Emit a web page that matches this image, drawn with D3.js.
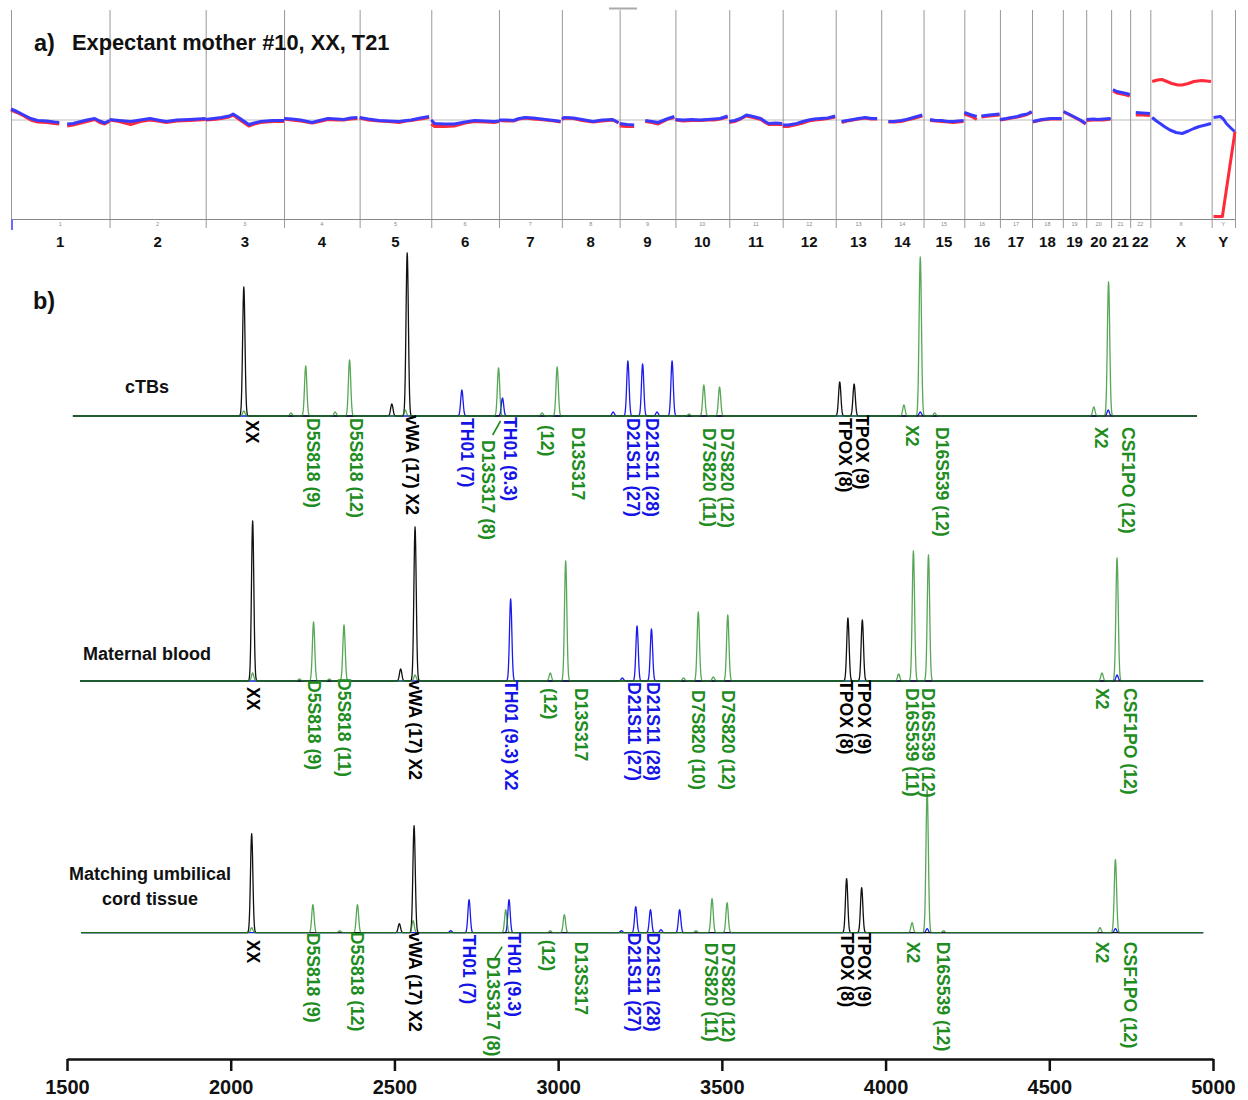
<!DOCTYPE html>
<html><head><meta charset="utf-8">
<script src="https://cdn.jsdelivr.net/npm/d3@7"></script>
<style>
body{margin:0;background:#fff}
text{font-family:"Liberation Sans",Arial,sans-serif;font-weight:bold}
</style></head>
<body>
<svg id="chart" width="1248" height="1100"></svg>
<script>
// ---------------- DATA: panel a (copy number) ----------------
const chromNames = ["1","2","3","4","5","6","7","8","9","10","11","12","13","14","15","16","17","18","19","20","21","22","X","Y"];
const chromLengthsMb = [249,243,198,191,181,171,159,146,141,136,135,134,115,107,103,90,81,78,59,63,48,51,155,59];
// [chromosome, [[fraction along chromosome, log2 ratio], ...]]  (null = gap)
const cnvBlue = [
 ["1",[[0,.22],[.06,.17],[.13,.1],[.2,.03],[.27,-.01],[.36,-.02],[.44,-.04],[.49,-.05],[.53,null],[.57,-.08],[.63,-.07],[.69,-.04],[.77,0],[.85,.03],[.9,-.02],[.95,-.06],[1,-.01]]],
 ["2",[[0,.01],[.1,-.01],[.22,-.03],[.32,0],[.42,.03],[.5,0],[.59,-.03],[.7,0],[.83,.01],[.92,.02],[1,.03]]],
 ["3",[[0,.01],[.1,.03],[.2,.05],[.3,.08],[.35,.12],[.42,.05],[.55,-.09],[.62,-.06],[.7,-.03],[.85,-.01],[1,-.01]]],
 ["4",[[0,.03],[.1,.02],[.22,0],[.37,-.05],[.47,-.01],[.58,.03],[.7,.02],[.79,.01],[.88,.04],[.97,.05]]],
 ["5",[[0,.05],[.12,.02],[.27,-.01],[.4,-.02],[.55,-.03],[.65,-.01],[.72,0],[.85,.04],[.97,.07]]],
 ["6",[[0,0],[.05,-.07],[.2,-.08],[.34,-.08],[.5,-.04],[.64,-.01],[.8,-.02],[.93,-.03],[1,-.02]]],
 ["7",[[0,0],[.12,0],[.23,-.01],[.32,.03],[.42,.05],[.55,.04],[.74,.01],[.88,-.01],[.98,-.03]]],
 ["8",[[0,.03],[.05,.05],[.2,.04],[.35,.01],[.54,-.03],[.7,0],[.88,.01],[.98,-.05]]],
 ["9",[[0,-.07],[.13,-.09],[.26,-.1],[.36,null],[.46,-.01],[.58,-.03],[.69,-.05],[.8,0],[.87,.03],[.98,.07]]],
 ["10",[[0,.01],[.15,0],[.3,.01],[.46,0],[.6,.01],[.72,.02],[.83,.03],[.97,.08]]],
 ["11",[[0,-.03],[.1,-.01],[.21,.03],[.32,.1],[.45,.07],[.59,.03],[.67,-.03],[.74,-.07],[.87,-.06],[.99,-.07]]],
 ["12",[[0,-.1],[.1,-.1],[.27,-.07],[.38,-.03],[.49,0],[.6,.02],[.72,.03],[.85,.04],[.99,.08]]],
 ["13",[[.13,-.03],[.25,-.01],[.38,.01],[.5,.03],[.65,.05],[.78,.03],[.91,.03]]],
 ["14",[[.17,-.03],[.3,-.03],[.47,-.01],[.6,.01],[.76,.05],[.97,.1]]],
 ["15",[[.16,.01],[.3,-.01],[.44,-.01],[.6,-.03],[.73,-.03],[.85,-.02],[.98,-.01]]],
 ["16",[[0,.15],[.2,.1],[.35,.07],[.4,null],[.48,.08],[.7,.1],[.99,.12]]],
 ["17",[[0,.01],[.2,.03],[.36,.05],[.55,.07],[.68,.1],[.85,.12],[.99,.17]]],
 ["18",[[.03,-.03],[.31,.01],[.6,.03],[.96,.03]]],
 ["19",[[.03,.17],[.25,.12],[.46,.07],[.75,0],[.98,-.07]]],
 ["20",[[.01,.01],[.3,.02],[.46,.01],[.7,.02],[.98,.03]]],
 ["21",[[.1,.61],[.3,.57],[.56,.55],[.8,.53],[.98,.51]]],
 ["22",[[.28,.15],[.6,.14],[.98,.13]]],
 ["X",[[.03,.05],[.1,-.02],[.16,-.07],[.24,-.14],[.32,-.2],[.42,-.25],[.52,-.27],[.62,-.22],[.71,-.17],[.8,-.13],[.9,-.1],[.99,-.07]]],
 ["Y",[[.08,.05],[.37,.07],[.5,.02],[.63,-.07],[.8,-.15],[.98,-.23]]]
];
const cnvRed = [
 ["1",[[0,.2],[.06,.15],[.13,.08],[.2,0],[.27,-.04],[.36,-.05],[.44,-.07],[.49,-.08],[.53,null],[.57,-.12],[.63,-.1],[.69,-.07],[.77,-.03],[.85,.01],[.9,-.05],[.95,-.08],[1,-.03]]],
 ["2",[[0,0],[.1,-.03],[.22,-.09],[.32,-.03],[.42,0],[.5,-.02],[.59,-.05],[.7,-.02],[.83,-.01],[.92,0],[1,.01]]],
 ["3",[[0,0],[.1,.01],[.2,.03],[.3,.06],[.35,.1],[.42,.02],[.55,-.12],[.62,-.08],[.7,-.05],[.85,-.03],[1,-.03]]],
 ["4",[[0,.02],[.1,0],[.22,-.02],[.37,-.06],[.47,-.03],[.58,.01],[.7,0],[.79,0],[.88,.02],[.97,.03]]],
 ["5",[[0,.04],[.12,0],[.27,-.02],[.4,-.03],[.55,-.05],[.65,-.02],[.72,-.01],[.85,.02],[.97,.05]]],
 ["6",[[0,-.08],[.05,-.13],[.2,-.13],[.34,-.12],[.5,-.06],[.64,-.03],[.8,-.04],[.93,-.05],[1,-.03]]],
 ["7",[[0,-.01],[.12,-.02],[.23,-.02],[.32,.02],[.42,.04],[.55,.02],[.74,0],[.88,-.02],[.98,-.04]]],
 ["8",[[0,.01],[.05,.04],[.2,.03],[.35,-.01],[.54,-.04],[.7,-.02],[.88,0],[.98,-.06]]],
 ["9",[[0,-.12],[.13,-.13],[.26,-.13],[.36,null],[.46,-.03],[.58,-.05],[.69,-.08],[.8,-.02],[.87,.02],[.98,.05]]],
 ["10",[[0,0],[.15,-.02],[.3,-.01],[.46,-.01],[.6,0],[.72,0],[.83,.02],[.97,.06]]],
 ["11",[[0,-.05],[.1,-.03],[.21,.02],[.32,.08],[.45,.05],[.59,.01],[.67,-.05],[.74,-.09],[.87,-.09],[.99,-.09]]],
 ["12",[[0,-.13],[.1,-.13],[.27,-.09],[.38,-.06],[.49,-.02],[.6,0],[.72,.01],[.85,.03],[.99,.06]]],
 ["13",[[.13,-.05],[.25,-.02],[.38,0],[.5,.02],[.65,.04],[.78,.02],[.91,.02]]],
 ["14",[[.17,-.04],[.3,-.04],[.47,-.03],[.6,0],[.76,.03],[.97,.08]]],
 ["15",[[.16,-.01],[.3,-.02],[.44,-.03],[.6,-.04],[.73,-.05],[.85,-.04],[.98,-.03]]],
 ["16",[[0,.12],[.2,.07],[.35,.01],[.4,null],[.48,.06],[.7,.08],[.99,.1]]],
 ["17",[[0,0],[.2,.02],[.36,.04],[.55,.06],[.68,.08],[.85,.11],[.99,.15]]],
 ["18",[[.03,-.04],[.31,0],[.6,.02],[.96,.02]]],
 ["19",[[.03,.16],[.25,.11],[.46,.06],[.75,-.01],[.98,-.08]]],
 ["20",[[.01,-.01],[.3,0],[.46,0],[.7,0],[.98,.02]]],
 ["21",[[.1,.58],[.3,.54],[.56,.52],[.8,.5],[.98,.48]]],
 ["22",[[.28,.1],[.6,.1],[.98,.09]]],
 ["X",[[.03,.77],[.12,.8],[.19,.81],[.27,.77],[.35,.73],[.45,.7],[.52,.7],[.62,.73],[.71,.77],[.84,.79],[.99,.77]]],
 ["Y",[[.08,-1.93],[.46,-1.93],[1,-.23]]]
];

// ---------------- DATA: panel b (electropherograms) ----------------
const panelNames = [["cTBs"],["Maternal blood"],["Matching umbilical","cord tissue"]];
const axisTicks = [1500,2000,2500,3000,3500,4000,4500,5000];
const traceExtent = [[1518,4951],[1540,4970],[1543,4970]];
// [channel, position, height (RFU)]
const cTBsPeaks = [
 ["black",2040,6450],["green",2040,250],["green",2184,150],["green",2229,2500],["green",2319,200],
 ["green",2363,2800],["black",2492,600],["black",2539,8150],["green",2533,300],["blue",2706,1300],
 ["green",2818,2400],["blue",2830,900],["green",2951,150],["green",2997,2450],["blue",3168,200],
 ["blue",3213,2750],["blue",3258,2600],["blue",3302,200],["blue",3348,2750],["green",3400,100],
 ["green",3445,1550],["green",3493,1450],["black",3860,1700],["black",3904,1600],["green",4056,550],
 ["green",4106,7950],["blue",4106,200],["green",4150,150],["green",4636,450],["green",4681,6700],["blue",4680,300]
];
const maternalPeaks = [
 ["black",2067,8000],["green",2067,400],["green",2210,100],["green",2253,2950],["green",2301,100],
 ["green",2346,2800],["black",2519,600],["black",2563,7700],["green",2563,300],["blue",2855,4100],
 ["green",2976,400],["green",3023,6000],["blue",3196,150],["blue",3241,2750],["blue",3285,2600],
 ["green",3383,150],["green",3428,3450],["green",3474,200],["green",3518,3300],["black",3885,3150],
 ["black",3929,3050],["green",4040,350],["green",4085,6500],["green",4131,6300],["green",4661,400],
 ["green",4707,6150],["blue",4707,300]
];
const cordPeaks = [
 ["black",2064,4950],["green",2064,250],["green",2251,1400],["green",2333,100],["green",2387,1400],
 ["black",2515,450],["black",2560,5350],["green",2557,600],["blue",2672,100],["blue",2728,1650],
 ["green",2840,1150],["blue",2850,1650],["green",2976,100],["green",3019,900],["blue",3193,100],
 ["blue",3237,1300],["blue",3282,1150],["blue",3314,150],["blue",3371,1150],["green",3421,100],
 ["green",3470,1700],["green",3516,1500],["black",3881,2700],["black",3927,2250],["green",4081,500],
 ["green",4127,7150],["blue",4127,200],["green",4177,100],["green",4655,250],["green",4702,3650],["blue",4702,200]
];
// [label, channel, position]
const cTBsLabels = [
 ["XX","black",2067],["D5S818 (9)","green",2251],["D5S818 (12)","green",2383],["vWA (17) X2","black",2555],
 ["TH01 (7)","blue",2723],["D13S317 (8)","green",2787],["TH01 (9.3)","blue",2854],["(12)","green",2967],
 ["D13S317","green",3061],["D21S11 (27)","blue",3230],["D21S11 (28)","blue",3287],["D7S820 (11)","green",3462],
 ["D7S820 (12)","green",3518],["TPOX (8)","black",3876],["TPOX (9)","black",3929],["X2","green",4081],
 ["D16S539 (12)","green",4172],["X2","green",4659],["CSF1PO (12)","green",4742]
];
const maternalLabels = [
 ["XX","black",2070],["D5S818 (9)","green",2254],["D5S818 (11)","green",2347],["vWA (17) X2","black",2565],
 ["TH01 (9.3) X2","blue",2856],["(12)","green",2976],["D13S317","green",3070],["D21S11 (27)","blue",3234],
 ["D21S11 (28)","blue",3292],["D7S820 (10)","green",3427],["D7S820 (12)","green",3521],["TPOX (8)","black",3879],
 ["TPOX (9)","black",3936],["D16S539 (11)","green",4081],["D16S539 (12)","green",4131],["X2","green",4661],
 ["CSF1PO (12)","green",4748]
];
const cordLabels = [
 ["XX","black",2070],["D5S818 (9)","green",2253],["D5S818 (12)","green",2387],["vWA (17) X2","black",2565],
 ["TH01 (7)","blue",2728],["D13S317 (8)","green",2801],["TH01 (9.3)","blue",2866],["(12)","green",2971],
 ["D13S317","green",3070],["D21S11 (27)","blue",3234],["D21S11 (28)","blue",3290],["D7S820 (11)","green",3467],
 ["D7S820 (12)","green",3521],["TPOX (8)","black",3882],["TPOX (9)","black",3934],["X2","green",4085],
 ["D16S539 (12)","green",4175],["X2","green",4661],["CSF1PO (12)","green",4748]
];

// ---------------- LAYOUT / STYLE ----------------
const W = 1248, H = 1100;
const traceColor = {black:"#111111", green:"#1f8a1f", blue:"#1a1aee"};
const labelColor = {black:"#000000", green:"#1e8c1e", blue:"#1414e6"};
const panelBaseY = [416, 681, 932.7];
const labelDrops = [
 [4,2,2,-1,2,24,1,9,11,2,2,12,12,2,-1,9,11,11,11],
 [6,-1,-3,-1,-1,7,7,1,1,9,9,-1,-1,7,7,7,7],
 [7,0,-1,-1,2,24,0,7,9,0,0,10,10,0,0,9,9,9,9]
];
const leaders = [[0, 2824, 5, 2800, 19], [2, 2829, 14, 2804, 27]];
const panelNameY = [[393],[660],[880,905]];
const panelNameX = 147;

const svg = d3.select("#chart");
svg.append("rect").attr("width",W).attr("height",H).attr("fill","#fff");

// ================= PANEL A =================
const totalMb = d3.sum(chromLengthsMb);
const chromStart = Array.from(d3.cumsum([0].concat(chromLengthsMb.slice(0,-1))));
const idx = Object.fromEntries(chromNames.map((c,i)=>[c,i]));
const xA = d3.scaleLinear([0,totalMb],[11,1235]);
const yA = d3.scaleLinear([-2,2.2],[220,10]);
const gA = svg.append("g");

// small grey handle at top
gA.append("line").attr("x1",609).attr("x2",637).attr("y1",8.5).attr("y2",8.5).attr("stroke","#aaa").attr("stroke-width",2);

// reference line
gA.append("line").attr("x1",xA(0)).attr("x2",xA(totalMb)).attr("y1",yA(0)).attr("y2",yA(0)).attr("stroke","#bbb").attr("stroke-width",1.2);
// chromosome boundaries
const bounds = chromStart.concat([totalMb]);
gA.selectAll("line.bd").data(bounds).join("line")
  .attr("x1",d=>xA(d)+0.5).attr("x2",d=>xA(d)+0.5).attr("y1",10).attr("y2",228)
  .attr("stroke","#999").attr("stroke-width",1);
// axis
gA.append("line").attr("x1",xA(0)).attr("x2",xA(totalMb)).attr("y1",219.5).attr("y2",219.5).attr("stroke","#888").attr("stroke-width",1.2);
gA.append("line").attr("x1",xA(0)+1).attr("x2",xA(0)+1).attr("y1",219).attr("y2",230).attr("stroke","#6a6aff").attr("stroke-width",2);

// tiny and large chromosome labels
gA.selectAll("text.small").data(chromNames).join("text")
  .attr("x",(d,i)=>xA(chromStart[i]+chromLengthsMb[i]/2)).attr("y",226)
  .attr("text-anchor","middle").attr("font-size",5.5).attr("fill","#888").style("font-weight","normal").text(d=>d);
gA.selectAll("text.big").data(chromNames).join("text")
  .attr("x",(d,i)=>xA(chromStart[i]+chromLengthsMb[i]/2)).attr("y",247)
  .attr("text-anchor","middle").attr("font-size",15).attr("fill","#111").text(d=>d);

// cnv lines
function drawCnv(data, color){
  data.forEach(([c, pts])=>{
    const i = idx[c];
    const line = d3.line().defined(d=>d[1]!==null)
      .x(d=>xA(chromStart[i]+d[0]*chromLengthsMb[i])).y(d=>yA(d[1]));
    gA.append("path").attr("d",line(pts)).attr("fill","none").attr("stroke",color)
      .attr("stroke-width",3).attr("stroke-linejoin","round");
  });
}
drawCnv(cnvRed, "#ff2a3a");
drawCnv(cnvBlue, "#3a3aff");

// title a
svg.append("text").attr("x",34).attr("y",51).attr("font-size",23.5).attr("fill","#111").text("a)");
svg.append("text").attr("x",72).attr("y",50).attr("font-size",21.8).attr("fill","#111").text("Expectant mother #10, XX, T21");

// ================= PANEL B =================
const xB = d3.scaleLinear([1500,5000],[67,1213]);
const hScale = d3.scaleLinear([0,8500],[0,170]);
const sigma = 3.6;
svg.append("text").attr("x",33).attr("y",309).attr("font-size",23.5).attr("fill","#111").text("b)");

const panels = [
  {peaks:cTBsPeaks, labels:cTBsLabels},
  {peaks:maternalPeaks, labels:maternalLabels},
  {peaks:cordPeaks, labels:cordLabels}
];

function channelSeries(peaks, ch, ext){
  const ps = peaks.filter(p=>p[0]===ch);
  let xs = [ext[0], ext[1]];
  ps.forEach(p=>{ for(let k=-5;k<=5;k+=0.25) xs.push(p[1]+k*sigma); });
  xs = xs.filter(x=>x>=ext[0]&&x<=ext[1]).sort((a,b)=>a-b);
  return xs.map(x=>[x, d3.sum(ps, p=>p[2]*Math.exp(-((x-p[1])**2)/(2*sigma*sigma)))]);
}

panels.forEach((P, pi)=>{
  const base = panelBaseY[pi];
  const g = svg.append("g");
  const line = d3.line().x(d=>xB(d[0])).y(d=>base - hScale(d[1]));
  ["blue","black","green"].forEach(ch=>{
    g.append("path").attr("d", line(channelSeries(P.peaks, ch, traceExtent[pi])))
      .attr("fill","none").attr("stroke",traceColor[ch]).attr("stroke-width",1.3)
      .attr("stroke-opacity", ch==="green"?0.75:1).attr("stroke-linejoin","round");
  });
  // labels
  g.selectAll("text.lab").data(P.labels).join("text")
    .attr("transform",(d,i)=>`translate(${xB(d[2])},${base+labelDrops[pi][i]}) rotate(90)`)
    .attr("dy","0.36em").attr("font-size",17.6).attr("fill",d=>labelColor[d[1]]).text(d=>d[0]);
  // panel name
  panelNames[pi].forEach((t,j)=>{
    g.append("text").attr("x",panelNameX+(pi===2?3:0)).attr("y",panelNameY[pi][j]).attr("text-anchor","middle")
      .attr("font-size",18).attr("fill","#111").text(t);
  });
});
// leader lines
leaders.forEach(([pi,u1,d1,u2,d2])=>{
  svg.append("line").attr("x1",xB(u1)).attr("y1",panelBaseY[pi]+d1).attr("x2",xB(u2)).attr("y2",panelBaseY[pi]+d2)
    .attr("stroke",labelColor.green).attr("stroke-width",1.6);
});

// bottom axis
const axis = d3.axisBottom(xB).tickValues(axisTicks).tickSize(12).tickSizeOuter(0).tickPadding(9).tickFormat(d3.format("d"));
svg.append("g").attr("transform","translate(0,1059)").call(axis)
  .attr("font-family",null).attr("font-size",null)
  .call(g=>g.select(".domain").attr("stroke","#111").attr("stroke-width",2.5))
  .call(g=>g.selectAll(".tick line").attr("stroke","#111").attr("stroke-width",2.5))
  .call(g=>g.selectAll(".tick text").attr("font-size",20).attr("fill","#111"));
</script>
</body></html>
